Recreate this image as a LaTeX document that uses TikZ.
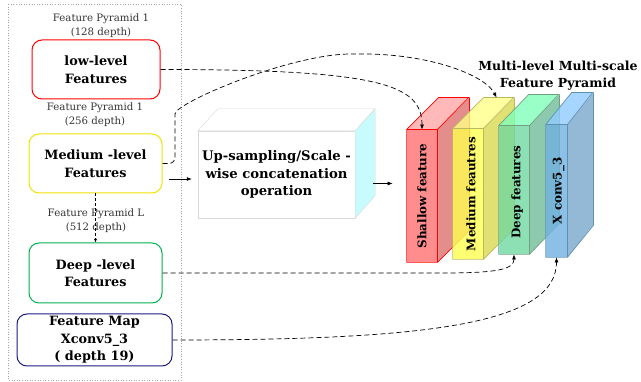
\documentclass[tikz,border=0pt]{standalone}
\usepackage{fontspec}
\setmainfont{DejaVu Serif}
\usetikzlibrary{arrows.meta,calc}

\definecolor{lowred}{HTML}{FF0000}
\definecolor{medyel}{HTML}{EEE400}
\definecolor{deepgrn}{HTML}{00B050}
\definecolor{mapnavy}{HTML}{1A1A80}
\definecolor{cubeside}{HTML}{C8FCFC}

\definecolor{rf}{HTML}{FF7070}\definecolor{rt}{HTML}{FFA8A8}\definecolor{rs}{HTML}{DC7070}
\definecolor{yf}{HTML}{FFFF50}\definecolor{yt}{HTML}{FFFF88}\definecolor{ys}{HTML}{D8D850}
\definecolor{gf}{HTML}{70D8A0}\definecolor{gt}{HTML}{80FFB8}\definecolor{gs}{HTML}{70BC98}
\definecolor{bf}{HTML}{70B0E0}\definecolor{bt}{HTML}{90CCFF}\definecolor{bs}{HTML}{78A8CC}
\definecolor{re}{HTML}{FF0000}\definecolor{ye}{HTML}{B8B860}
\definecolor{ge}{HTML}{70A080}\definecolor{be}{HTML}{6090B0}

% one slab of the pyramid: name, centre, width, height, depth x, depth y, front, top, side
\newcommand{\slab}[9]{%
  \node[slabfront=#3pt, minimum height=#4pt, fill=#7, fill opacity=0.8] (#1) at #2 {};
  \fill[#8, fill opacity=0.8] (#1.north west) -- ++(#5,#6) -- ++(#3,0) -- (#1.north east) -- cycle;
  \fill[#9, fill opacity=0.8] (#1.north east) -- ++(#5,#6) -- ++(0,#4) -- (#1.south east) -- cycle;
}
% its outline: name, depth x, depth y, width, colour
\newcommand{\slabedge}[5]{%
  \draw[#5, line width=0.7pt] (#1.south west) rectangle (#1.north east)
    (#1.north west) -- ++(#2,#3) -- ++(#4,0) -- (#1.north east)
    ($(#1.north east)+(#2,#3)$) -- ($(#1.south east)+(#2,#3)$) -- (#1.south east);
}

\begin{document}
\begin{tikzpicture}[x=1pt,y=-1pt,
  lvlbox/.style={draw, rounded corners=10pt, line width=1pt, align=center,
    inner sep=0pt, font=\bfseries\fontsize{12.8}{17.5}\selectfont},
  caption/.style={align=center, text=black!80, font=\fontsize{10.2}{14}\selectfont},
  link/.style={dash pattern=on 5pt off 3pt, line width=0.7pt,
    -{Latex[length=5pt,width=4pt]}},
  arrowline/.style={line width=0.7pt, -{Latex[length=5pt,width=4pt]}},
  slabfront/.style={minimum width=#1, inner sep=0pt, line width=0.8pt},
  slabtext/.style={rotate=90, font=\bfseries\fontsize{11.9}{13}\selectfont},
]
\useasboundingbox (0,0) rectangle (641,382);

% frame around the feature levels
\draw[dotted, gray!70, line width=0.6pt] (8,4) rectangle (181,380);

% feature levels
\node[lvlbox, draw=lowred, minimum width=128pt, minimum height=59pt] (low) at (96,69.5) {low-level\\Features};
\node[lvlbox, draw=medyel, minimum width=133pt, minimum height=59pt] (med) at (95.5,163.5) {Medium -level\\Features};
\node[lvlbox, draw=deepgrn, minimum width=133pt, minimum height=60pt] (deep) at (95.5,273) {Deep -level\\Features};
\node[lvlbox, draw=mapnavy, minimum width=155pt, minimum height=52pt] (fmap) at (94.5,340) {Feature Map\\Xconv5\_3\\( depth 19)};

\node[caption] (cap1) at (101,26) {Feature Pyramid 1\\(128 depth)};
\node[caption] (cap2) at (95,115) {Feature Pyramid 1\\(256 depth)};
\node[caption] (cap3) at (96,221) {Feature Pyramid L\\(512 depth)};

\draw[dash pattern=on 3pt off 2pt, line width=0.7pt, -{Latex[length=3.5pt,width=3pt]}] (med.south) -- (deep.north);

% concatenation block
\node[draw=gray!30, fill=white, minimum width=157pt, minimum height=87pt, inner sep=0pt,
  align=center, font=\bfseries\fontsize{13.2}{17.5}\selectfont] (cube) at (276.5,174.5)
  {Up-sampling/Scale -\\wise concatenation\\operation};
\draw[draw=gray!30, fill=white] (cube.north west) -- ++(20,-22) -- ++(157,0) -- (cube.north east) -- cycle;
\draw[draw=gray!30, fill=cubeside] (cube.north east) -- ++(20,-22) -- ++(0,87) -- (cube.south east) -- cycle;

% slabs of the pyramid
\slab{sred}{(422,196)}{30}{132}{32}{-32}{rf}{rt}{rs}
\slabedge{sred}{32}{-32}{30}{re}
\slab{syel}{(468,194)}{30}{130}{31}{-31}{yf}{yt}{ys}
\slabedge{syel}{31}{-31}{30}{ye}
\slab{sgrn}{(514,190)}{30}{128}{30}{-31}{gf}{gt}{gs}
\slabedge{sgrn}{30}{-31}{30}{ge}
\slab{sblue}{(556.5,191)}{21}{132}{26}{-32}{bf}{bt}{bs}
\slabedge{sblue}{26}{-32}{21}{be}

\node[slabtext] (tred) at (sred.center) {Shallow feature};
\node[slabtext] (tyel) at ($(syel.center)+(3,0)$) {Medium feautres};
\node[slabtext] (tgrn) at ($(sgrn.center)+(3,2)$) {Deep features};
\node[slabtext] (tblue) at ($(sblue.center)+(2,0)$) {X conv5\_3};

\node[align=center, font=\bfseries\fontsize{12.5}{17}\selectfont] (title) at (558,76)
  {Multi-level Multi-scale\\Feature Pyramid};

% flow arrows
\coordinate (a1) at ([xshift=6pt,yshift=-15.5pt]med.east);
\draw[arrowline] (a1) -- ($(a1 -| cube.west)+(-6,0)$);
\coordinate (a2) at ([xshift=18pt,yshift=-9pt]cube.east);
\draw[arrowline] (a2) -- ($(a2 -| sred.west)+(-14,0)$);

% feature links into the pyramid
\draw[link] (low.east) .. controls +(220,0) and +(0,-45) .. (sred.north);
\draw[link, rounded corners=6pt] (med.east) -- (175,163.5) -- (175,120)
  .. controls (175,103) and (290,54) .. (357,54)
  .. controls (430,54) and (485,75) .. ($(syel.north west)+(44,-31)$);
\draw[link] (deep.east) -- ++(280,0) .. controls +(55,0) and +(0,15) .. (sgrn.south);
\draw[link] (fmap.east) .. controls +(248,0) and +(0,68) .. (sblue.south);
\end{tikzpicture}
\end{document}
